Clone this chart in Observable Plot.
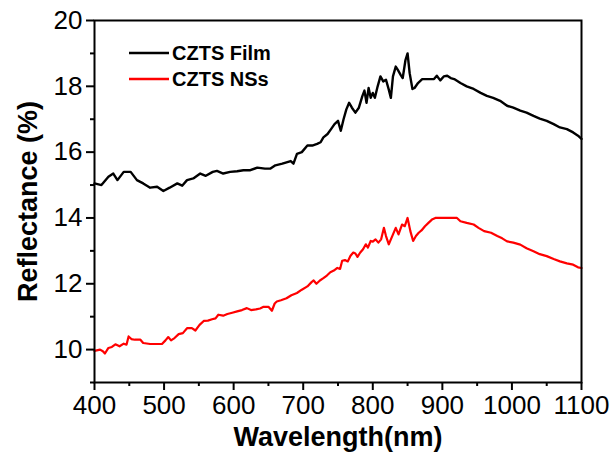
<!DOCTYPE html>
<html><head><meta charset="utf-8">
<script src="https://cdn.jsdelivr.net/npm/d3@7"></script>
<script src="https://cdn.jsdelivr.net/npm/@observablehq/plot@0.6"></script>
<style>
body{margin:0;background:#fff;}
#wrap{position:relative;width:614px;height:461px;font-family:"Liberation Sans",Arial,sans-serif;}
#legend{position:absolute;left:0;top:0;pointer-events:none;}
</style></head><body><div id="wrap"></div>
<script>
const seriesNames = ["CZTS Film", "CZTS NSs"];
const seriesColors = ["#000000", "#ff0000"];

const filmWl = [400,410,420,427,433,442,452,461,470,480,490,499,508,519,526,533,542,552,560,570,576,585,595,605,614,624,634,645,653,660,670,682,686,691,698,706,713,720,725,729,735,740,745,750,754,758,762,766,770,775,780,785,788,791,794,797,800,803,807,811,815,819,823,826,829,833,836,840,843,847,850,853,857,860,865,871,880,888,892,897,902,907,912,917,926,935,945,955,964,973,983,993,1002,1012,1021,1031,1040,1050,1060,1069,1079,1088,1095,1100];
const filmR = [15.05,15.0,15.25,15.35,15.15,15.4,15.4,15.15,15.05,14.92,14.95,14.82,14.92,15.05,14.98,15.15,15.2,15.35,15.28,15.4,15.43,15.35,15.4,15.42,15.45,15.45,15.53,15.5,15.5,15.6,15.65,15.73,15.65,15.95,16.0,16.2,16.2,16.25,16.3,16.45,16.55,16.7,16.85,16.95,16.65,17.0,17.3,17.5,17.35,17.2,17.35,17.7,17.87,17.5,17.95,17.65,17.8,17.65,18.0,18.3,18.15,18.2,17.9,17.65,18.3,18.6,18.5,18.35,18.25,18.8,19.0,18.4,17.92,17.95,18.1,18.22,18.22,18.22,18.32,18.18,18.3,18.32,18.25,18.22,18.1,18.0,17.92,17.8,17.71,17.65,17.56,17.41,17.35,17.26,17.2,17.1,17.02,16.95,16.85,16.75,16.7,16.6,16.5,16.4];

const nssWl = [400,408,412,415,420,425,430,436,442,446,449,453,458,466,470,480,490,497,502,506,510,515,521,527,533,540,545,551,557,563,569,574,578,585,591,598,605,612,619,625,632,638,643,650,655,659,662,668,676,683,691,698,706,712,715,719,724,729,734,739,744,749,753,756,760,764,768,772,775,778,782,786,790,793,797,800,804,808,812,816,819,823,828,833,837,842,846,850,854,858,862,866,870,875,880,885,890,900,910,921,926,935,945,952,960,970,979,986,993,1002,1012,1021,1031,1040,1050,1060,1069,1079,1088,1095,1100];
const nssR = [9.96,10.0,9.95,9.88,10.05,10.08,10.16,10.1,10.18,10.15,10.4,10.32,10.3,10.3,10.2,10.17,10.17,10.17,10.28,10.38,10.28,10.35,10.47,10.5,10.65,10.65,10.58,10.75,10.87,10.88,10.92,10.95,11.06,11.03,11.08,11.12,11.16,11.2,11.26,11.2,11.22,11.25,11.3,11.3,11.18,11.4,11.46,11.5,11.56,11.65,11.72,11.82,11.92,12.05,12.1,12.0,12.1,12.17,12.25,12.35,12.4,12.48,12.45,12.7,12.72,12.68,12.85,12.95,12.92,12.82,12.95,13.05,13.2,13.1,13.3,13.28,13.35,13.25,13.35,13.7,13.45,13.2,13.45,13.7,13.5,13.8,13.75,14.0,13.6,13.3,13.45,13.55,13.62,13.75,13.85,13.95,14.0,14.0,14.0,14.0,13.9,13.85,13.8,13.7,13.6,13.55,13.45,13.38,13.29,13.25,13.19,13.08,12.99,12.9,12.84,12.75,12.68,12.62,12.58,12.5,12.48];

const xTicks = [400,500,600,700,800,900,1000,1100];
const xMinor = [450,550,650,750,850,950,1050];
const yTicks = [10,12,14,16,18,20];
const yMinor = [9,11,13,15,17,19];
const xTitle = "Wavelength(nm)";
const yTitle = "Reflectance (%)";

const film = filmWl.map((w, i) => ({w, r: filmR[i]}));
const nss = nssWl.map((w, i) => ({w, r: nssR[i]}));

const font = "'Liberation Sans', Arial, sans-serif";
const chart = Plot.plot({
  width: 614, height: 461,
  marginLeft: 94, marginRight: 33, marginTop: 20, marginBottom: 79,
  style: {fontFamily: font, background: "white", color: "black", overflow: "visible"},
  x: {domain: [400, 1100]},
  y: {domain: [9, 20]},
  marks: [
    Plot.line(nss, {x: "w", y: "r", stroke: seriesColors[1], strokeWidth: 2.2}),
    Plot.line(film, {x: "w", y: "r", stroke: seriesColors[0], strokeWidth: 2.4}),
    Plot.axisX(xTicks, {tickSize: 8, tickPadding: 5, fontSize: 26, strokeWidth: 2, label: null, tickFormat: d => String(d)}),
    Plot.axisX(xMinor, {tickSize: 4, tickFormat: () => "", strokeWidth: 2, label: null}),
    Plot.axisY(yTicks, {tickSize: 8, tickPadding: 4, fontSize: 26, strokeWidth: 2, label: null, tickFormat: d => String(d)}),
    Plot.axisY(yMinor, {tickSize: 4, tickFormat: () => "", strokeWidth: 2, label: null}),
    Plot.frame({stroke: "black", strokeWidth: 2}),
    Plot.text([xTitle], {frameAnchor: "bottom", dy: 55, text: d => d, fontSize: 27, fontWeight: "bold", lineAnchor: "middle", textAnchor: "middle"}),
    Plot.text([yTitle], {frameAnchor: "left", dx: -66, text: d => d, rotate: -90, fontSize: 27, fontWeight: "bold", lineAnchor: "middle", textAnchor: "middle"})
  ]
});
const wrap = document.getElementById("wrap");
wrap.appendChild(chart);

// legend overlay
const ns = "http://www.w3.org/2000/svg";
const lg = document.createElementNS(ns, "svg");
lg.setAttribute("id", "legend");
lg.setAttribute("width", 614);
lg.setAttribute("height", 461);
seriesNames.forEach((name, i) => {
  const y = 53 + i * 26;
  const ln = document.createElementNS(ns, "line");
  ln.setAttribute("x1", 129); ln.setAttribute("x2", 169);
  ln.setAttribute("y1", y); ln.setAttribute("y2", y);
  ln.setAttribute("stroke", seriesColors[i]); ln.setAttribute("stroke-width", 2.4);
  lg.appendChild(ln);
  const t = document.createElementNS(ns, "text");
  t.setAttribute("x", 172); t.setAttribute("y", y);
  t.setAttribute("dy", "0.36em");
  t.setAttribute("font-size", 20); t.setAttribute("font-weight", "bold");
  t.setAttribute("font-family", font);
  t.textContent = name;
  lg.appendChild(t);
});
wrap.appendChild(lg);
</script></body></html>
